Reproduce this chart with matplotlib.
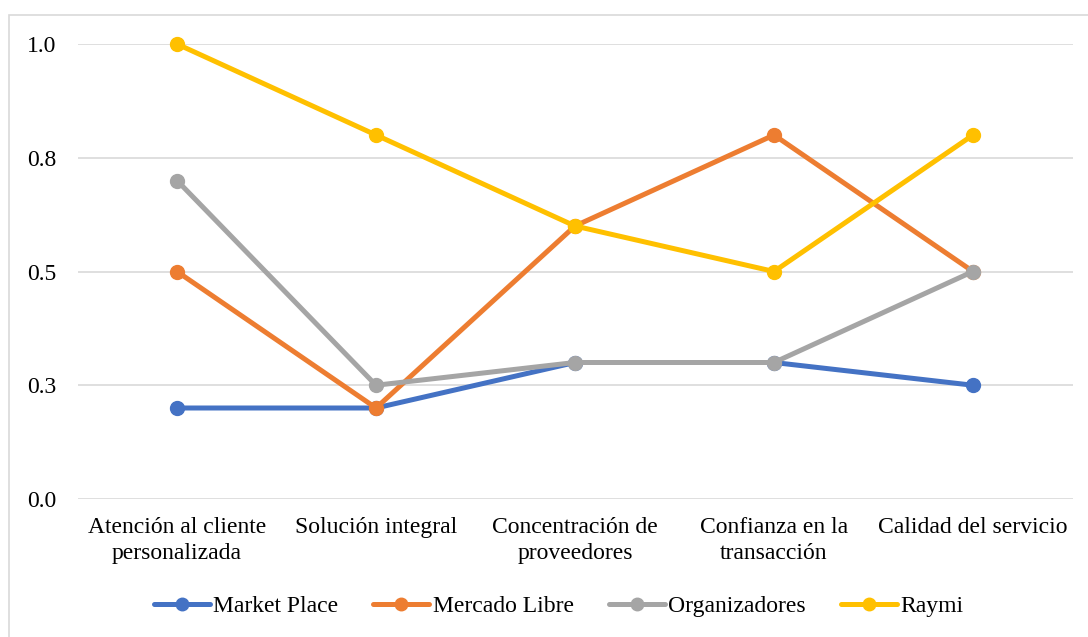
import matplotlib
matplotlib.use('Agg')
import matplotlib.pyplot as plt
from matplotlib.patches import Rectangle

categories = ["Atención al cliente\npersonalizada", "Solución integral",
              "Concentración de\nproveedores", "Confianza en la\ntransacción",
              "Calidad del servicio"]
market_place = [0.2, 0.2, 0.3, 0.3, 0.25]
mercado_libre = [0.5, 0.2, 0.6, 0.8, 0.5]
organizadores = [0.7, 0.25, 0.3, 0.3, 0.5]
raymi = [1.0, 0.8, 0.6, 0.5, 0.8]
y_ticks = [0.0, 0.25, 0.5, 0.75, 1.0]
y_tick_labels = ["0.0", "0.3", "0.5", "0.8", "1.0"]

series = [("Market Place", market_place, "#4472C4"),
          ("Mercado Libre", mercado_libre, "#ED7D31"),
          ("Organizadores", organizadores, "#A5A5A5"),
          ("Raymi", raymi, "#FFC000")]

plt.rcParams['font.family'] = ['Liberation Serif', 'DejaVu Serif']

fig = plt.figure(figsize=(10.88, 6.37), dpi=100)
# light frame round the chart area
fig.patches.append(Rectangle((9 / 1088, -0.1), 1.2, 1 - 15 / 637 + 0.1,
                             transform=fig.transFigure, fill=False,
                             edgecolor='#D9D9D9', linewidth=1.2))
ax = fig.add_axes([77.5 / 1088, 1 - 499 / 637, 995 / 1088, 455 / 637])

x = list(range(len(categories)))
for name, vals, col in series:
    ax.plot(x, vals, color=col, linewidth=3.6, marker='o', markersize=10,
            label=name, solid_capstyle='round', clip_on=False)

ax.set_xlim(-0.5, len(categories) - 0.5)
ax.set_ylim(0, 1.0)
ax.set_yticks(y_ticks)
ax.set_yticklabels(y_tick_labels)
ax.set_xticks(x)
ax.set_xticklabels(categories, fontsize=17, linespacing=1.3)
ax.tick_params(axis='y', labelsize=17, length=0, pad=15)
ax.tick_params(axis='x', length=0, pad=13)
ax.yaxis.grid(True, color='#D9D9D9', linewidth=1.2)
ax.set_axisbelow(True)
for s in ax.spines.values():
    s.set_visible(False)

fig.legend(loc='center', bbox_to_anchor=(558.5 / 1088, 1 - 606 / 637), ncol=4,
           frameon=False, fontsize=17, handlelength=2.37, handletextpad=0.15,
           columnspacing=1.48, markerscale=0.9)

plt.savefig('out.png', dpi=100)
